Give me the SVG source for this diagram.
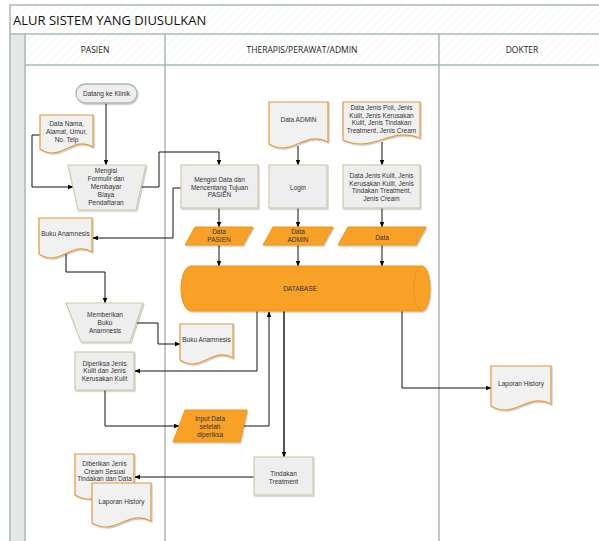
<svg xmlns="http://www.w3.org/2000/svg" width="599" height="541" viewBox="0 0 599 541">
<defs>
<pattern id="hatch" width="6" height="6" patternUnits="userSpaceOnUse" patternTransform="rotate(45)">
<rect width="6" height="6" fill="#ffffff"/>
<line x1="0" y1="0" x2="0" y2="6" stroke="#f1f3f2" stroke-width="1.5"/>
</pattern>
<marker id="arr" viewBox="0 0 10 10" refX="9" refY="5" markerWidth="6" markerHeight="6" orient="auto" markerUnits="userSpaceOnUse">
<path d="M0,1 L10,5 L0,9 Z" fill="#000"/>
</marker>
<filter id="sh" x="-10%" y="-10%" width="130%" height="130%">
<feDropShadow dx="1" dy="1.2" stdDeviation="0.7" flood-color="#000" flood-opacity="0.22"/>
</filter>
</defs>
<style>
.frame{fill:none;stroke:#a9b9b1;stroke-width:1.5}
.t{font-family:"Liberation Sans",Arial,sans-serif;fill:#333;text-anchor:middle;font-size:6.5px}
.hdr{font-family:"Open Sans","Noto Sans","Liberation Sans",sans-serif;fill:#222;text-anchor:middle;font-size:8.5px}
.title{font-family:"Open Sans","Noto Sans","Liberation Sans",sans-serif;fill:#111;font-size:13px}
.doc{fill:#f1f1f1;stroke:#e29a3a;stroke-width:1.2;filter:url(#sh)}
.proc{fill:#eeeeee;stroke:#d2caa9;stroke-width:1.2;filter:url(#sh)}
.term{fill:#eeeeee;stroke:#a9b9b1;stroke-width:1.3;filter:url(#sh)}
.data{fill:#f8a125;stroke:#eb951c;stroke-width:1;filter:url(#sh)}
.c{fill:none;stroke:#111;stroke-width:1;marker-end:url(#arr)}
.ct{fill:none;stroke:#555;stroke-width:2;marker-end:url(#arr)}
</style>
<rect width="599" height="541" fill="#ffffff"/>
<g id="frame">
<rect x="10" y="5" width="600" height="29" fill="url(#hatch)"/>
<rect x="25" y="34" width="585" height="31" fill="url(#hatch)"/>
<rect x="10" y="34" width="15" height="510" fill="#e6e8e7"/>
<path class="frame" d="M10,545 V5 H610 M10,34 H610 M25,65 H610 M25,34 V545 M165,34 V545 M439,34 V545"/>
<text class="title" x="13" y="25">ALUR SISTEM YANG DIUSULKAN</text>
<text class="hdr" x="95" y="53">PASIEN</text>
<text class="hdr" x="302" y="53">THERAPIS/PERAWAT/ADMIN</text>
<text class="hdr" x="522" y="53">DOKTER</text>
</g>
<g id="connectors">
<path class="c" d="M106,103 V165"/>
<path class="c" d="M40,135 H32 V187 H73"/>
<path class="c" d="M141,187 H159 V152 H219 V165"/>
<path class="c" d="M181,188 H173 V238 H93"/>
<path class="c" d="M219,208 V227"/>
<path class="c" d="M219,245 V266"/>
<path class="c" d="M298,146 V165"/>
<path class="c" d="M298,208 V227"/>
<path class="c" d="M298,245 V266"/>
<path class="c" d="M382,142 V165"/>
<path class="c" d="M382,208 V227"/>
<path class="c" d="M382,245 V266"/>
<path class="c" d="M66,254 V272 H105 V303"/>
<path class="c" d="M136,323 H158 V344 H180"/>
<path class="c" d="M257,311 V371 H135"/>
<path class="c" d="M105,390 V426 H179"/>
<path class="c" d="M243,426 H269 V312"/>
<path class="ct" d="M284,311 V457"/>
<path class="c" d="M402,311 V388 H491"/>
<path class="c" d="M254,477 H135"/>
</g>
<g id="datang">
<rect class="term" x="76" y="84" width="61" height="19" rx="9.5"/>
<text class="t" x="106.5" y="96">Datang ke Klinik</text>
</g>
<g id="datanama">
<path class="doc" d="M40,115 H93 V147 C72,135 61,163 40,149 Z"/>
<text class="t" x="66.5" y="125.5">Data Nama,</text>
<text class="t" x="66.5" y="133.5">Alamat, Umur,</text>
<text class="t" x="66.5" y="141.5">No. Telp</text>
</g>
<g id="formulir">
<polygon class="proc" points="68,165 146,165 136,210 78,210"/>
<text class="t" x="106" y="173">Mengisi</text>
<text class="t" x="106" y="181">Formulir dan</text>
<text class="t" x="106" y="189">Membayar</text>
<text class="t" x="106" y="197">Biaya</text>
<text class="t" x="106" y="205">Pendaftaran</text>
</g>
<g id="mengisidata">
<rect class="proc" x="181" y="165" width="77" height="43"/>
<text class="t" x="219.5" y="182">Mengisi Data dan</text>
<text class="t" x="219.5" y="189.6">Mencentang Tujuan</text>
<text class="t" x="219.5" y="197.2">PASIEN</text>
</g>
<g id="dataadmin-doc">
<path class="doc" d="M269,102 H328 V142 C304,130 292,158 269,144 Z"/>
<text class="t" x="298.5" y="122">Data ADMIN</text>
</g>
<g id="login">
<rect class="proc" x="269" y="165" width="58" height="43"/>
<text class="t" x="298" y="190">Login</text>
</g>
<g id="datapoli">
<path class="doc" d="M343,102 H420 V138 C389,126 374,154 343,140 Z"/>
<text class="t" x="381.5" y="110">Data Jenis Poli, Jenis</text>
<text class="t" x="381.5" y="117.6">Kulit, Jenis Kerusakan</text>
<text class="t" x="381.5" y="125.2">Kulit, Jenis Tindakan</text>
<text class="t" x="381.5" y="132.8">Treatment, Jenis Cream</text>
</g>
<g id="datajenis">
<rect class="proc" x="343" y="165" width="77" height="43"/>
<text class="t" x="381.5" y="178">Data Jenis Kulit, Jenis</text>
<text class="t" x="381.5" y="185.6">Kerusakan Kulit, Jenis</text>
<text class="t" x="381.5" y="193.2">Tindakan Treatment,</text>
<text class="t" x="381.5" y="200.8">Jenis Cream</text>
</g>
<g id="datapasien-io">
<polygon class="data" points="195,227 253,227 243,245 185,245"/>
<text class="t" x="219" y="234.3">Data</text>
<text class="t" x="219" y="242">PASIEN</text>
</g>
<g id="dataadmin-io">
<polygon class="data" points="273,227 333,227 323,245 263,245"/>
<text class="t" x="298" y="234.3">Data</text>
<text class="t" x="298" y="242">ADMIN</text>
</g>
<g id="data-io">
<polygon class="data" points="348,227 426,227 416,245 338,245"/>
<text class="t" x="382" y="239.7">Data</text>
</g>
<g id="database">
<path class="data" d="M191,266 H422 A8,22.5 0 0 1 422,311 H191 A10,22.5 0 0 1 191,266 Z"/>
<path d="M422,266 A8,22.5 0 0 0 422,311" fill="none" stroke="#eb951c" stroke-width="1"/>
<text class="t" x="300" y="291">DATABASE</text>
</g>
<g id="bukuanamnesis1">
<path class="doc" d="M39,218 H92 V252 C71,240 60,268 39,254 Z"/>
<text class="t" x="65.5" y="236">Buku Anamnesis</text>
</g>
<g id="memberikan">
<polygon class="proc" points="66,303 143,303 130,342 81,342"/>
<text class="t" x="105" y="317">Memberikan</text>
<text class="t" x="105" y="325">Buku</text>
<text class="t" x="105" y="333">Anamnesis</text>
</g>
<g id="bukuanamnesis2">
<path class="doc" d="M180,324 H233 V358 C212,346 201,374 180,360 Z"/>
<text class="t" x="206.5" y="341.5">Buku Anamnesis</text>
</g>
<g id="diperiksa">
<rect class="proc" x="75" y="352" width="59" height="38"/>
<text class="t" x="104.5" y="365.5">Diperiksa Jenis</text>
<text class="t" x="104.5" y="373.3">Kulit dan Jenis</text>
<text class="t" x="104.5" y="381.1">Kerusakan Kulit</text>
</g>
<g id="inputdata">
<polygon class="data" points="185,410 247,410 240,442 173,442"/>
<text class="t" x="210" y="421">Input Data</text>
<text class="t" x="210" y="428.8">setelah</text>
<text class="t" x="210" y="436.6">diperiksa</text>
</g>
<g id="tindakan">
<rect class="proc" x="254" y="457" width="59" height="38"/>
<text class="t" x="283.5" y="475.5">Tindakan</text>
<text class="t" x="283.5" y="484">Treatment</text>
</g>
<g id="diberikan">
<path class="doc" d="M75,454 H134 V493 C110,481 99,509 75,495 Z"/>
<text class="t" x="104.5" y="466">Diberikan Jenis</text>
<text class="t" x="104.5" y="473.7">Cream Sesuai</text>
<text class="t" x="104.5" y="481.4">Tindakan dan Data</text>
</g>
<g id="laporan1">
<path class="doc" d="M92,483 H151 V521 C127,509 116,537 92,523 Z"/>
<text class="t" x="121.5" y="504">Laporan History</text>
</g>
<g id="laporan2">
<path class="doc" d="M491,366 H551 V404 C527,392 515,420 491,406 Z"/>
<text class="t" x="521" y="385.5">Laporan History</text>
</g>
</svg>
